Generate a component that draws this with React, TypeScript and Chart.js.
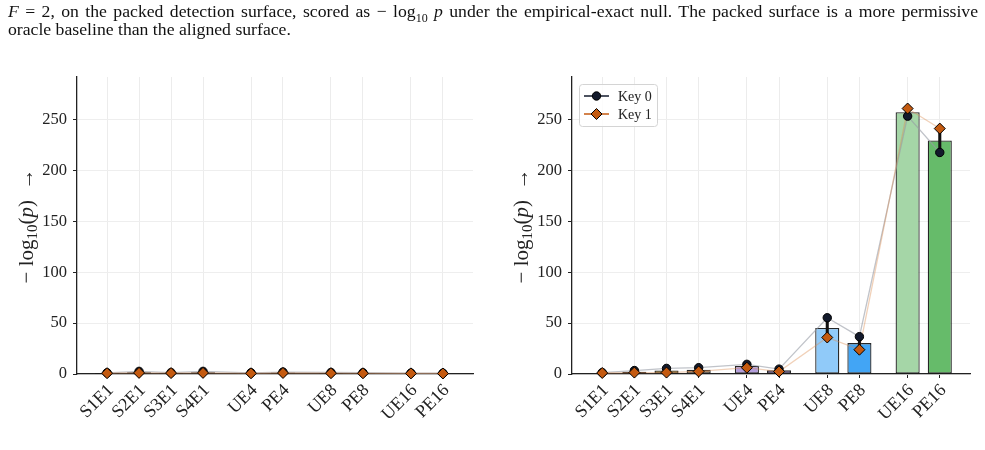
import React, { useEffect, useRef } from 'react';
import { Chart, registerables } from 'chart.js';

Chart.register(...registerables);

// Configurations along the x axis (grouped by family, with gaps between families)
const categories = ['S1E1', 'S2E1', 'S3E1', 'S4E1', 'UE4', 'PE4', 'UE8', 'PE8', 'UE16', 'PE16'];
const positions = [0, 1, 2, 3, 4.5, 5.5, 7, 8, 9.5, 10.5];
const barColors = [
  '#4e342e', '#8d6e63', '#b8860b', '#a08060',
  '#b39ddb', '#7e57c2',
  '#90caf9', '#42a5f5',
  '#a5d6a7', '#66bb6a',
];
const yTicks = [0, 50, 100, 150, 200, 250];

// Left panel: -log10(p) per key and the bar (mean across keys)
const leftBars = [1.0, 1.8, 1.1, 1.8, 0.9, 1.4, 1.1, 1.0, 0.7, 0.6];
const leftKey0 = [1.2, 2.6, 1.4, 2.6, 1.2, 1.9, 1.5, 1.3, 0.9, 0.8];
const leftKey1 = [0.8, 1.1, 0.9, 1.1, 0.7, 1.0, 0.8, 0.7, 0.6, 0.5];

// Right panel
const rightBars = [0.8, 2.3, 3.4, 4.3, 7.9, 3.6, 45.3, 30.4, 257.3, 229.5];
const rightKey0 = [1.4, 3.4, 5.5, 6.2, 9.5, 4.8, 55.3, 36.7, 253.5, 217.8];
const rightKey1 = [1.0, 1.4, 1.4, 2.5, 6.2, 2.4, 35.9, 23.9, 261.0, 241.3];

const Y_MAX = 292;
const SERIF = '"Liberation Serif", "Times New Roman", serif';
const INK = '#222222';

const pts = (vals: number[]) => vals.map((y, i) => ({ x: positions[i], y }));
const spans = (a: number[], b: number[]) =>
  a.map((v, i) => ({ x: positions[i], y: [Math.min(v, b[i]), Math.max(v, b[i])] }));

type Piece = { t: string; size: number; italic?: boolean; dy?: number };

const titlePieces: Piece[] = [
  { t: '\u2212 log', size: 21 },
  { t: '10', size: 15, dy: 4 },
  { t: '(', size: 21 },
  { t: 'p', size: 21, italic: true },
  { t: ')', size: 21 },
  { t: '  \u2192', size: 21 },
];

function drawYTitle(ctx: CanvasRenderingContext2D, cx: number, cy: number) {
  ctx.save();
  ctx.translate(cx, cy);
  ctx.rotate(-Math.PI / 2);
  ctx.fillStyle = INK;
  ctx.textBaseline = 'alphabetic';
  ctx.textAlign = 'left';
  const fontOf = (p: Piece) => `${p.italic ? 'italic ' : ''}${p.size}px ${SERIF}`;
  let total = 0;
  const widths = titlePieces.map((p) => {
    ctx.font = fontOf(p);
    const w = ctx.measureText(p.t).width;
    total += w;
    return w;
  });
  let x = -total / 2;
  titlePieces.forEach((p, i) => {
    ctx.font = fontOf(p);
    ctx.fillText(p.t, x, 6 + (p.dy || 0));
    x += widths[i];
  });
  ctx.restore();
}

function drawXLabels(chart: any) {
  const ctx = chart.ctx as CanvasRenderingContext2D;
  const xs = chart.scales.x;
  ctx.save();
  ctx.fillStyle = INK;
  ctx.font = `18px ${SERIF}`;
  ctx.textAlign = 'right';
  ctx.textBaseline = 'alphabetic';
  categories.forEach((label, i) => {
    const px = xs.getPixelForValue(positions[i]);
    ctx.save();
    ctx.translate(px + 7, xs.top + 17);
    ctx.rotate(-Math.PI / 4);
    ctx.fillText(label, 0, 0);
    ctx.restore();
  });
  ctx.restore();
}

function drawLegend(ctx: CanvasRenderingContext2D, left: number, top: number) {
  const w = 78;
  const h = 42;
  ctx.save();
  ctx.beginPath();
  ctx.roundRect(left + 0.5, top + 0.5, w, h, 3);
  ctx.fillStyle = 'rgba(255,255,255,0.85)';
  ctx.fill();
  ctx.strokeStyle = '#d4d4d4';
  ctx.lineWidth = 1;
  ctx.stroke();

  const rows = [
    { label: 'Key 0', line: '#131a2c', fill: '#131a2c', shape: 'circle', y: top + 12 },
    { label: 'Key 1', line: '#c45a10', fill: '#c45a10', shape: 'diamond', y: top + 30 },
  ];
  rows.forEach((r) => {
    const x0 = left + 5;
    const x1 = left + 30;
    const mx = (x0 + x1) / 2;
    ctx.beginPath();
    ctx.moveTo(x0, r.y);
    ctx.lineTo(x1, r.y);
    ctx.strokeStyle = r.line;
    ctx.lineWidth = 1.5;
    ctx.stroke();
    ctx.beginPath();
    if (r.shape === 'circle') {
      ctx.arc(mx, r.y, 4.2, 0, Math.PI * 2);
    } else {
      const s = 5.5;
      ctx.moveTo(mx - s, r.y);
      ctx.lineTo(mx, r.y - s);
      ctx.lineTo(mx + s, r.y);
      ctx.lineTo(mx, r.y + s);
      ctx.closePath();
    }
    ctx.fillStyle = r.fill;
    ctx.fill();
    ctx.strokeStyle = '#000';
    ctx.lineWidth = 1;
    ctx.stroke();
    ctx.fillStyle = INK;
    ctx.font = `14px ${SERIF}`;
    ctx.textBaseline = 'middle';
    ctx.textAlign = 'left';
    ctx.fillText(r.label, left + 39, r.y + 1);
  });
  ctx.restore();
}

type PanelProps = {
  bars: number[];
  key0: number[];
  key1: number[];
  width: number;
  axisLeft: number;
  axisRight: number;
  titleX: number;
  legend: boolean;
};

function Panel({ bars, key0, key1, width, axisLeft, axisRight, titleX, legend }: PanelProps) {
  const ref = useRef<HTMLCanvasElement | null>(null);

  useEffect(() => {
    if (!ref.current) return;
    const decor = {
      id: 'decor',
      afterDraw(chart: any) {
        const ctx = chart.ctx as CanvasRenderingContext2D;
        drawYTitle(ctx, titleX, 226);
        drawXLabels(chart);
        if (legend) drawLegend(ctx, 89, 84);
      },
    };

    const chart = new Chart(ref.current, {
      type: 'bar',
      data: {
        datasets: [
          {
            type: 'bar',
            data: pts(bars) as any,
            backgroundColor: barColors,
            borderColor: 'rgba(0,0,0,0.85)',
            borderWidth: 1.3,
            borderSkipped: false,
            barPercentage: 0.75,
            categoryPercentage: 1,
            grouped: false,
            order: 6,
          } as any,
          {
            type: 'line',
            data: pts(key0) as any,
            borderColor: 'rgba(150,155,165,0.6)',
            borderWidth: 1.3,
            pointRadius: 0,
            order: 5,
          },
          {
            type: 'line',
            data: pts(key1) as any,
            borderColor: 'rgba(220,140,80,0.4)',
            borderWidth: 1.3,
            pointRadius: 0,
            order: 4,
          },
          {
            type: 'bar',
            data: spans(key0, key1) as any,
            backgroundColor: '#111111',
            borderWidth: 0,
            barThickness: 2.4,
            grouped: false,
            order: 3,
          } as any,
          {
            type: 'line',
            data: pts(key0) as any,
            showLine: false,
            pointStyle: 'circle',
            pointRadius: 4.2,
            pointBackgroundColor: '#131a2c',
            pointBorderColor: '#000000',
            pointBorderWidth: 1,
            clip: false,
            order: 2,
          } as any,
          {
            type: 'line',
            data: pts(key1) as any,
            showLine: false,
            pointStyle: 'rectRot',
            pointRadius: 5.5,
            pointBackgroundColor: '#c45a10',
            pointBorderColor: '#000000',
            pointBorderWidth: 1,
            clip: false,
            order: 1,
          } as any,
        ],
      },
      options: {
        responsive: false,
        animation: false,
        devicePixelRatio: 1,
        layout: { padding: { left: 0, right: width - axisRight, top: 77, bottom: 0 } },
        plugins: {
          legend: { display: false },
          tooltip: { enabled: false },
        },
        scales: {
          x: {
            type: 'linear',
            min: -0.94,
            max: 11.44,
            offset: false,
            afterBuildTicks: (scale: any) => {
              scale.ticks = positions.map((value) => ({ value }));
            },
            afterFit: (scale: any) => {
              scale.height = 76;
            },
            ticks: {
              display: false,
              autoSkip: false,
            },
            grid: {
              offset: false,
              color: '#ececec',
              lineWidth: 1,
              drawTicks: true,
              tickLength: 4,
              tickColor: INK,
              tickWidth: 1,
            },
            border: { display: true, color: INK, width: 1.3 },
          },
          y: {
            min: 0,
            max: Y_MAX,
            afterBuildTicks: (scale: any) => {
              scale.ticks = yTicks.map((value) => ({ value }));
            },
            afterFit: (scale: any) => {
              scale.width = axisLeft;
            },
            ticks: {
              padding: 6,
              color: INK,
              font: { family: SERIF, size: 16.5 },
            },
            grid: {
              color: '#eeeeee',
              lineWidth: 1,
              drawTicks: true,
              tickLength: 4,
              tickColor: INK,
              tickWidth: 1,
            },
            border: { display: true, color: INK, width: 1.3 },
          },
        },
      },
      plugins: [decor],
    } as any);

    return () => chart.destroy();
  }, [bars, key0, key1, width, axisLeft, axisRight, titleX, legend]);

  return <canvas ref={ref} width={width} height={450} style={{ display: 'block', width, height: 450 }} />;
}

export default function App() {
  return (
    <div
      style={{
        position: 'absolute',
        left: 0,
        top: 0,
        width: 985,
        height: 450,
        overflow: 'hidden',
        background: '#ffffff',
      }}
    >
      <div style={{ position: 'absolute', left: 0, top: 0 }}>
        <Panel
          bars={leftBars}
          key0={leftKey0}
          key1={leftKey1}
          width={490}
          axisLeft={77}
          axisRight={473}
          titleX={27}
          legend={false}
        />
      </div>
      <div style={{ position: 'absolute', left: 490, top: 0 }}>
        <Panel
          bars={rightBars}
          key0={rightKey0}
          key1={rightKey1}
          width={495}
          axisLeft={82}
          axisRight={480}
          titleX={32}
          legend={true}
        />
      </div>
      <div
        style={{
          position: 'absolute',
          left: 8,
          top: 1.5,
          width: 970,
          fontFamily: SERIF,
          fontSize: 17.7,
          lineHeight: '18.3px',
          color: '#111',
        }}
      >
        <div style={{ textAlign: 'justify', textAlignLast: 'justify', whiteSpace: 'nowrap' as any }}>
          <i>F</i> = 2, on the packed detection surface, scored as {'\u2212'} log<sub style={{ fontSize: 12, lineHeight: 0 }}>10</sub>{' '}
          <i>p</i> under the empirical-exact null. The packed surface is a more permissive
        </div>
        <div>oracle baseline than the aligned surface.</div>
      </div>
    </div>
  );
}
